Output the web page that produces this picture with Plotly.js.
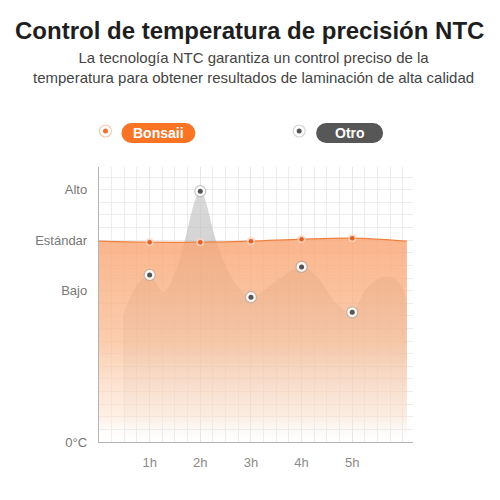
<!DOCTYPE html>
<html>
<head>
<meta charset="utf-8">
<script src="https://cdn.plot.ly/plotly-3.0.1.min.js"></script>
<style>html,body{margin:0;padding:0;background:#fff;}#chart{width:500px;height:500px;}</style>
</head>
<body>
<div id="chart"></div>
<script>
// ---- data ----
const hourTicks = [1, 2, 3, 4, 5];
const hourLabels = ['1h', '2h', '3h', '4h', '5h'];
const levelVals = [0, 3, 4, 5];
const levelLabels = ['0°C', 'Bajo', 'Estándar', 'Alto'];

// Bonsaii (orange) curve
const bonsaiiX = [0, 1, 2, 3, 4, 5, 6.08];
const bonsaiiY = [3.98, 3.96, 3.96, 3.98, 4.02, 4.04, 3.98];
const bonsaiiMarkY = [3.96, 3.96, 3.98, 4.02, 4.04];

// Otro (gray) curve
const otroX = [0.48, 0.72, 1, 1.27, 1.57, 1.68, 2, 2.33, 2.65, 3, 3.52, 4, 4.36, 4.66, 5, 5.26, 5.59, 5.88, 6.08];
const otroY = [2.51, 3.07, 3.31, 2.97, 3.54, 3.94, 4.97, 3.94, 3.21, 2.87, 3.21, 3.47, 3.21, 2.77, 2.57, 3.01, 3.27, 3.21, 2.81];
const otroMarkY = [3.31, 4.97, 2.87, 3.47, 2.57];

const seriesNames = ['Bonsaii', 'Otro'];

const traces = [
  {
    x: otroX, y: otroY, type: 'scatter', mode: 'lines',
    line: {shape: 'spline', smoothing: 1, width: 0, color: 'rgba(0,0,0,0)'},
    fill: 'tozeroy',
    fillgradient: {type: 'vertical', start: 0, stop: 5,
      colorscale: [[0, 'rgba(180,180,180,0)'], [0.3, 'rgba(175,175,175,0.25)'], [0.6, 'rgba(170,170,170,0.5)'], [1, 'rgba(205,205,205,0.75)']]},
    hoverinfo: 'skip', showlegend: false
  },
  {
    x: bonsaiiX, y: bonsaiiY, type: 'scatter', mode: 'lines',
    line: {shape: 'spline', width: 1.2, color: '#f08040'},
    fill: 'tozeroy',
    fillgradient: {type: 'vertical', start: 0, stop: 4,
      colorscale: [[0, 'rgba(255,255,255,0)'], [0.12, 'rgba(253,228,210,0.55)'], [0.5, 'rgba(250,190,150,0.78)'], [1, 'rgba(249,165,115,0.82)']]},
    hoverinfo: 'skip', showlegend: false
  },
  {
    x: hourTicks, y: otroMarkY, type: 'scatter', mode: 'markers',
    marker: {size: 11, color: 'rgba(255,255,255,0.85)', line: {width: 1.2, color: 'rgba(150,150,150,0.55)'}},
    hoverinfo: 'skip', showlegend: false
  },
  {
    x: hourTicks, y: otroMarkY, type: 'scatter', mode: 'markers',
    marker: {size: 5, color: '#555555'},
    hoverinfo: 'skip', showlegend: false
  },
  {
    x: hourTicks, y: bonsaiiMarkY, type: 'scatter', mode: 'markers',
    marker: {size: 8, color: 'rgba(255,210,185,0.8)'},
    hoverinfo: 'skip', showlegend: false
  },
  {
    x: hourTicks, y: bonsaiiMarkY, type: 'scatter', mode: 'markers',
    marker: {size: 4.5, color: '#e0602a'},
    hoverinfo: 'skip', showlegend: false
  }
];

// plot area in pixels: x 98.5..413, y 167..442
const L = 98.5, R = 413, T = 167, B = 442;
const px = v => (v - L) / (R - L);
const py = v => (B - v) / (B - T);

function pill(cx, cy, w, h, color) {
  const r = h / 2;
  return [
    {type: 'rect', xref: 'paper', yref: 'paper', x0: px(cx - w / 2 + r), x1: px(cx + w / 2 - r), y0: py(cy + r), y1: py(cy - r), fillcolor: color, line: {width: 0}, layer: 'above'},
    {type: 'circle', xref: 'paper', yref: 'paper', xsizemode: 'pixel', ysizemode: 'pixel', xanchor: px(cx - w / 2 + r), yanchor: py(cy), x0: -r, x1: r, y0: -r, y1: r, fillcolor: color, line: {width: 0}, layer: 'above'},
    {type: 'circle', xref: 'paper', yref: 'paper', xsizemode: 'pixel', ysizemode: 'pixel', xanchor: px(cx + w / 2 - r), yanchor: py(cy), x0: -r, x1: r, y0: -r, y1: r, fillcolor: color, line: {width: 0}, layer: 'above'}
  ];
}
function dot(cx, cy, r, fill, border, inner, ir) {
  return [
    {type: 'circle', xref: 'paper', yref: 'paper', xsizemode: 'pixel', ysizemode: 'pixel', xanchor: px(cx), yanchor: py(cy), x0: -r, x1: r, y0: -r, y1: r, fillcolor: fill, line: {width: 1.2, color: border}, layer: 'above'},
    {type: 'circle', xref: 'paper', yref: 'paper', xsizemode: 'pixel', ysizemode: 'pixel', xanchor: px(cx), yanchor: py(cy), x0: -ir, x1: ir, y0: -ir, y1: ir, fillcolor: inner, line: {width: 0}, layer: 'above'}
  ];
}

const shapes = [].concat(
  pill(158, 133, 74, 20, '#f97424'),
  pill(349.5, 133, 67, 20, '#575757'),
  dot(105, 131, 6, '#ffffff', '#f6c9ae', '#f07030', 2.5),
  dot(299, 131, 6, '#ffffff', '#d6d6d6', '#555555', 2.5)
);

const FONT = 'Liberation Sans, Arial, sans-serif';

const annotations = [
  {xref: 'paper', yref: 'paper', x: px(249), y: py(31), text: '<b>Control de temperatura de precisión NTC</b>', showarrow: false, xanchor: 'center', yanchor: 'middle', font: {family: FONT, size: 24, color: '#1e1e1e'}},
  {xref: 'paper', yref: 'paper', x: px(253), y: py(67), text: 'La tecnología NTC garantiza un control preciso de la<br>temperatura para obtener resultados de laminación de alta calidad', showarrow: false, xanchor: 'center', yanchor: 'middle', align: 'center', font: {family: FONT, size: 15, color: '#444444'}},
  {xref: 'paper', yref: 'paper', x: px(158), y: py(133), text: '<b>' + seriesNames[0] + '</b>', showarrow: false, xanchor: 'center', yanchor: 'middle', font: {family: FONT, size: 14, color: '#ffffff'}},
  {xref: 'paper', yref: 'paper', x: px(349.5), y: py(133), text: '<b>' + seriesNames[1] + '</b>', showarrow: false, xanchor: 'center', yanchor: 'middle', font: {family: FONT, size: 14, color: '#ffffff'}}
];

const layout = {
  width: 500, height: 500,
  margin: {l: L, r: 500 - R, t: T, b: 500 - B},
  paper_bgcolor: '#ffffff', plot_bgcolor: '#ffffff',
  showlegend: false,
  xaxis: {
    range: [0, 6.2], tickmode: 'array', tickvals: hourTicks, ticktext: hourLabels,
    showgrid: true, gridcolor: '#e6e6e6', gridwidth: 1,
    minor: {dtick: 0.25, tick0: 0, showgrid: true, gridcolor: '#ececec', gridwidth: 1},
    showline: true, linecolor: '#b4b4b4', linewidth: 1.2,
    zeroline: false, ticks: '', ticklabelstandoff: 8,
    tickfont: {family: FONT, size: 13, color: '#8a8a8a'}, fixedrange: true
  },
  yaxis: {
    range: [0, 5.45], tickmode: 'array', tickvals: levelVals, ticktext: levelLabels,
    showgrid: true, gridcolor: '#ececec', gridwidth: 1,
    minor: {dtick: 0.25, tick0: 0, showgrid: true, gridcolor: '#ececec', gridwidth: 1},
    showline: true, linecolor: '#b4b4b4', linewidth: 1.2,
    zeroline: false, ticks: '', ticklabelstandoff: 8,
    tickfont: {family: FONT, size: 13, color: '#777777'}, fixedrange: true
  },
  shapes: shapes,
  annotations: annotations
};

Plotly.newPlot('chart', traces, layout, {staticPlot: true, displayModeBar: false});
</script>
</body>
</html>
